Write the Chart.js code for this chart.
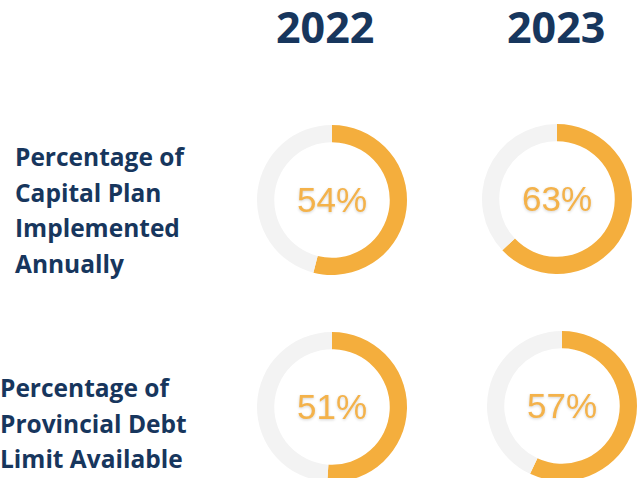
<!DOCTYPE html>
<html><head><meta charset="utf-8">
<script src="https://cdn.jsdelivr.net/npm/chart.js@4/dist/chart.umd.min.js"></script>
<style>
html,body{margin:0;padding:0;width:637px;height:478px;overflow:hidden;background:#fff;position:relative;}
.c{position:absolute;width:150px;height:150px;}
.yr{position:absolute;top:-3px;font-family:"Open Sans",sans-serif;font-weight:700;font-size:43px;color:#17365d;}
.lbl{position:absolute;font-family:"Open Sans",sans-serif;font-weight:700;font-size:24.5px;line-height:35.5px;color:#17365d;}
</style></head><body>
<div class="yr" id="y0" style="left:276px"></div>
<div class="yr" id="y1" style="left:507px"></div>
<div class="lbl" id="l0" style="left:15px;top:139px"></div>
<div class="lbl" id="l1" style="left:0px;top:370px"></div>
<div class="c" style="left:257px;top:125px"><canvas id="c0"></canvas></div>
<div class="c" style="left:482px;top:124px"><canvas id="c1"></canvas></div>
<div class="c" style="left:257px;top:332px"><canvas id="c2"></canvas></div>
<div class="c" style="left:487px;top:331px"><canvas id="c3"></canvas></div>
<script>
const years = ["2022", "2023"];
const metrics = [
  ["Percentage of", "Capital Plan", "Implemented", "Annually"],
  ["Percentage of", "Provincial Debt", "Limit Available"]
];
const capitalPlan = [54, 63];
const debtLimit = [51, 57];

years.forEach((y,i)=>{document.getElementById('y'+i).textContent=y;});
metrics.forEach((m,i)=>{document.getElementById('l'+i).innerHTML=m.join('<br>');});

const centerText = {
  id:'centerText',
  afterDraw(chart){
    const v = chart.data.datasets[0].data[0];
    const meta = chart.getDatasetMeta(0).data[0];
    const ctx = chart.ctx;
    ctx.save();
    ctx.font = '35px "Liberation Sans", Arial, sans-serif';
    ctx.fillStyle = '#f4b24a';
    ctx.textAlign='center'; ctx.textBaseline='middle';
    ctx.shadowColor='rgba(0,0,0,0.18)'; ctx.shadowBlur=3; ctx.shadowOffsetY=1;
    ctx.fillText(v+'%', meta.x, meta.y+2);
    ctx.restore();
  }
};
function make(id, v){
  new Chart(document.getElementById(id), {
    type:'doughnut',
    data:{labels:['value','rest'],datasets:[{data:[v,100-v],backgroundColor:['#f4ae3d','#f3f3f3'],borderWidth:0}]},
    options:{responsive:true,maintainAspectRatio:false,animation:false,cutout:'77%',
      layout:{padding:0},
      plugins:{legend:{display:false},tooltip:{enabled:false}}},
    plugins:[centerText]
  });
}
make('c0', capitalPlan[0]);
make('c1', capitalPlan[1]);
make('c2', debtLimit[0]);
make('c3', debtLimit[1]);
</script>
</body></html>
